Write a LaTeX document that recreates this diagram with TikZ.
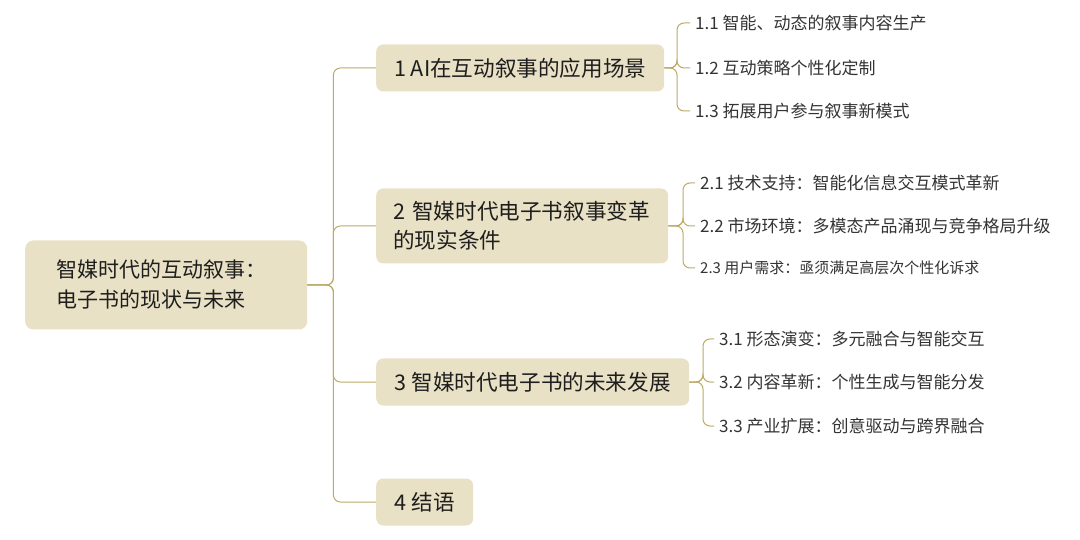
\documentclass[tikz,border=0pt]{standalone}
\usepackage{fontspec}
\setmainfont{Noto Sans CJK SC}
\usepackage{xcolor}
\definecolor{cFill}{HTML}{E9E1C5}
\definecolor{cLine}{HTML}{BDAA68}
\definecolor{cText}{HTML}{1E1E1E}
\definecolor{cLeaf}{HTML}{333333}
\usepackage{tikz}
\usetikzlibrary{positioning,calc}
\tikzset{
  node-root/.style={fill=cFill,rounded corners=8pt,anchor=west,align=left,
    inner xsep=31pt,text width=220pt,minimum height=89pt,text=cText,
    font=\fontsize{21}{30}\selectfont},
  node-box/.style={fill=cFill,rounded corners=7pt,anchor=west,align=left,
    inner xsep=17pt,minimum height=47pt,text=cText,
    font=\fontsize{21.6}{29}\selectfont},
  node-leaf/.style={anchor=west,inner xsep=5pt,inner ysep=2pt,text=cLeaf,
    font=\fontsize{17}{20}\selectfont},
  node-leaf-small/.style={node-leaf,font=\fontsize{15}{18}\selectfont},
  link/.style={draw=cLine,line width=1pt,rounded corners=7pt},
}
\begin{document}
\begin{tikzpicture}[x=1pt,y=-1pt]
  \useasboundingbox (0,0) rectangle (1080,540);
  % 主干
  \node[node-root] (root) at (25,285) {智媒时代的互动叙事：\\电子书的现状与未来};
  \node[node-box,minimum width=288pt] (b1) at (376,68) {1 AI在互动叙事的应用场景};
  \node[node-box,minimum height=75pt,text width=258pt] (b2) at (376,226) {2 智媒时代电子书叙事变革\\的现实条件};
  \node[node-box,minimum width=313pt] (b3) at (376,382) {3 智媒时代电子书的未来发展};
  \node[node-box,minimum width=97pt] (b4) at (376,502) {4 结语};
  \foreach \b in {b1,b2,b3,b4}
    \draw[link] (root.east) -- ++(26,0) |- (\b.west);
  % 分支
  \node[node-leaf] (l11) at (690,23) {1.1 智能、动态的叙事内容生产};
  \node[node-leaf] (l12) at (690,68) {1.2 互动策略个性化定制};
  \node[node-leaf] (l13) at (690,111) {1.3 拓展用户参与叙事新模式};
  \node[node-leaf] (l21) at (695,183) {2.1 技术支持：智能化信息交互模式革新};
  \node[node-leaf] (l22) at (695,226) {2.2 市场环境：多模态产品涌现与竞争格局升级};
  \node[node-leaf-small] (l23) at (695,268) {2.3 用户需求：亟须满足高层次个性化诉求};
  \node[node-leaf] (l31) at (714,339) {3.1 形态演变：多元融合与智能交互};
  \node[node-leaf] (l32) at (714,382) {3.2 内容革新：个性生成与智能分发};
  \node[node-leaf] (l33) at (714,426) {3.3 产业扩展：创意驱动与跨界融合};
  \foreach \l in {l11,l12,l13}
    \draw[link] (b1.east) -- (677,68) |- (\l.west);
  \foreach \l in {l21,l22,l23}
    \draw[link] (b2.east) -- (683,226) |- (\l.west);
  \foreach \l in {l31,l32,l33}
    \draw[link] (b3.east) -- (703,382) |- (\l.west);
\end{tikzpicture}
\end{document}
